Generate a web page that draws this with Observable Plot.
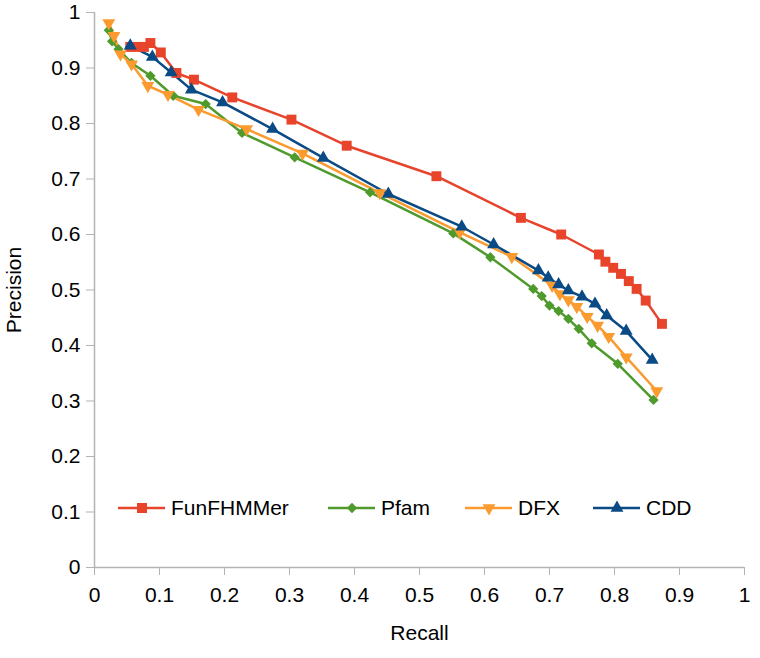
<!DOCTYPE html>
<html>
<head>
<meta charset="utf-8">
<script src="https://cdn.jsdelivr.net/npm/d3@7"></script>
<script src="https://cdn.jsdelivr.net/npm/@observablehq/plot@0.6"></script>
<style>
  body { margin: 0; background: #fff; font-family: "Liberation Sans", Arial, sans-serif; }
  #wrap { position: relative; width: 760px; height: 658px; }
  #legend { position: absolute; top: 496px; left: 0; width: 760px; height: 24px; }
  .item { position: absolute; top: 0; display: flex; align-items: center; height: 24px; font-size: 21px; color: #000; }
  .item svg { margin-right: 6px; }
</style>
</head>
<body>
<div id="wrap"></div>
<script>
// ---- data ----
const seriesNames = ["FunFHMMer", "Pfam", "DFX", "CDD"];
const seriesColors = ["#e8432b", "#4f9a2c", "#fb9a2e", "#0a4a85"];

const funRecall = [0.055, 0.067, 0.076, 0.086, 0.102, 0.126, 0.153, 0.212, 0.303, 0.388, 0.526, 0.656, 0.718, 0.776, 0.786, 0.798, 0.810, 0.822, 0.834, 0.848, 0.873];
const funPrecision = [0.938, 0.938, 0.938, 0.945, 0.928, 0.891, 0.879, 0.847, 0.807, 0.760, 0.705, 0.630, 0.600, 0.564, 0.551, 0.540, 0.529, 0.516, 0.502, 0.481, 0.439];

const pfamRecall = [0.022, 0.027, 0.037, 0.057, 0.086, 0.121, 0.171, 0.227, 0.308, 0.424, 0.552, 0.609, 0.675, 0.688, 0.700, 0.714, 0.729, 0.745, 0.765, 0.805, 0.860];
const pfamPrecision = [0.968, 0.948, 0.934, 0.909, 0.886, 0.850, 0.835, 0.783, 0.739, 0.676, 0.602, 0.559, 0.502, 0.489, 0.472, 0.462, 0.448, 0.430, 0.404, 0.367, 0.302];

const dfxRecall = [0.022, 0.030, 0.040, 0.057, 0.082, 0.113, 0.160, 0.234, 0.320, 0.439, 0.562, 0.642, 0.704, 0.716, 0.729, 0.742, 0.758, 0.774, 0.791, 0.818, 0.865];
const dfxPrecision = [0.981, 0.958, 0.925, 0.907, 0.868, 0.852, 0.825, 0.790, 0.746, 0.675, 0.604, 0.560, 0.508, 0.493, 0.482, 0.470, 0.452, 0.436, 0.416, 0.379, 0.318];

const cddRecall = [0.055, 0.089, 0.118, 0.149, 0.197, 0.274, 0.352, 0.452, 0.565, 0.614, 0.683, 0.698, 0.714, 0.729, 0.750, 0.770, 0.788, 0.818, 0.858];
const cddPrecision = [0.940, 0.920, 0.892, 0.861, 0.838, 0.790, 0.738, 0.673, 0.614, 0.582, 0.535, 0.522, 0.510, 0.499, 0.488, 0.475, 0.454, 0.426, 0.374];

const xTicks = [0, 0.1, 0.2, 0.3, 0.4, 0.5, 0.6, 0.7, 0.8, 0.9, 1];
const yTicks = [0, 0.1, 0.2, 0.3, 0.4, 0.5, 0.6, 0.7, 0.8, 0.9, 1];

// ---- build table ----
function rows(name, rs, ps) { return rs.map((r, i) => ({series: name, recall: r, precision: ps[i]})); }
const fun = rows("FunFHMMer", funRecall, funPrecision);
const pfam = rows("Pfam", pfamRecall, pfamPrecision);
const dfx = rows("DFX", dfxRecall, dfxPrecision);
const cdd = rows("CDD", cddRecall, cddPrecision);

const color = {domain: seriesNames, range: seriesColors};
const fmt = d => d === 0 ? "0" : d === 1 ? "1" : String(d);
const axisGray = "#b3b3b3";

const plot = Plot.plot({
  width: 760,
  height: 658,
  marginLeft: 94,
  marginRight: 16,
  marginTop: 12,
  marginBottom: 91,
  style: {fontFamily: "'Liberation Sans', Arial, sans-serif", fontSize: "21px", color: "#000", background: "#fff"},
  x: {domain: [0, 1]},
  y: {domain: [0, 1]},
  color: color,
  marks: [
    Plot.ruleX([0], {stroke: axisGray, strokeWidth: 1.5}),
    Plot.ruleY([0], {stroke: axisGray, strokeWidth: 1.5}),
    Plot.axisX({ticks: xTicks, tickFormat: fmt, tickSize: 8, tickPadding: 12, stroke: axisGray, fill: "#000", fontSize: 21, label: "Recall", labelAnchor: "center", labelArrow: false, labelOffset: 72}),
    Plot.axisY({ticks: yTicks, tickFormat: fmt, tickSize: 8, tickPadding: 6, stroke: axisGray, fill: "#000", fontSize: 21, label: "Precision", labelAnchor: "center", labelArrow: false, labelOffset: 88}),
    Plot.line(fun, {x: "recall", y: "precision", stroke: "series", strokeWidth: 2.5}),
    Plot.line(pfam, {x: "recall", y: "precision", stroke: "series", strokeWidth: 2.5}),
    Plot.line(dfx, {x: "recall", y: "precision", stroke: "series", strokeWidth: 2.5}),
    Plot.line(cdd, {x: "recall", y: "precision", stroke: "series", strokeWidth: 2.5}),
    Plot.dot(fun, {x: "recall", y: "precision", fill: "series", symbol: "square", r: 5.6}),
    Plot.dot(pfam, {x: "recall", y: "precision", fill: "series", symbol: "square", r: 4.1, rotate: 45}),
    Plot.dot(dfx, {x: "recall", y: "precision", fill: "series", symbol: "triangle", r: 4.8, rotate: 180}),
    Plot.dot(cdd, {x: "recall", y: "precision", fill: "series", symbol: "triangle", r: 4.8})
  ]
});

const wrap = document.getElementById("wrap");
wrap.appendChild(plot);

// ---- legend (overlay, inside plot area) ----
const legendLeft = [118, 328, 465, 593];
const legendSymbols = [d3.symbolSquare, d3.symbolSquare, d3.symbolTriangle, d3.symbolTriangle];
const legendSizes = [100, 53, 72, 72];
const legendRotate = [0, 45, 180, 0];
const legend = document.createElement("div");
legend.id = "legend";
seriesNames.forEach((name, i) => {
  const item = document.createElement("div");
  item.className = "item";
  item.style.left = legendLeft[i] + "px";
  const path = d3.symbol(legendSymbols[i], legendSizes[i])();
  item.innerHTML = `<svg width="47" height="24"><line x1="0" x2="47" y1="12" y2="12" stroke="${seriesColors[i]}" stroke-width="2.5"/><path d="${path}" transform="translate(24,12) rotate(${legendRotate[i]})" fill="${seriesColors[i]}"/></svg><span>${name}</span>`;
  legend.appendChild(item);
});
wrap.appendChild(legend);
</script>
</body>
</html>
